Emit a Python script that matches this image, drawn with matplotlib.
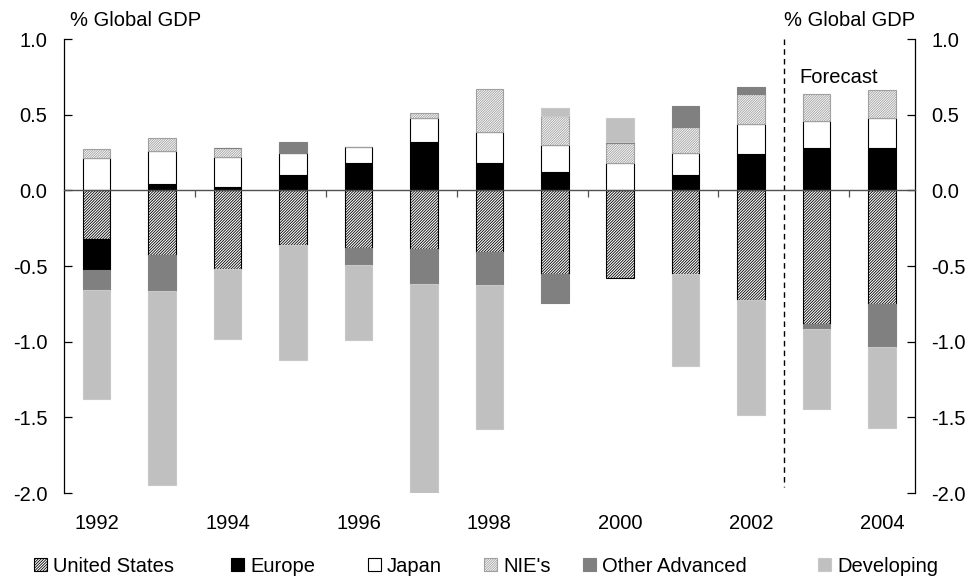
import numpy as np
import matplotlib
matplotlib.use('Agg')
import matplotlib.pyplot as plt

plt.rcParams['font.family'] = ['Liberation Sans', 'DejaVu Sans']
plt.rcParams['axes.unicode_minus'] = False
plt.rcParams['hatch.linewidth'] = 0.6

years = [1992, 1993, 1994, 1995, 1996, 1997, 1998, 1999, 2000, 2001, 2002, 2003, 2004]

# contributions, % of global GDP
us = [-0.323, -0.427, -0.522, -0.361, -0.383, -0.385, -0.405, -0.555, -0.582, -0.555, -0.727, -0.880, -0.750]
europe = [-0.200, 0.041, 0.019, 0.100, 0.178, 0.321, 0.178, 0.118, 0.0, 0.103, 0.237, 0.281, 0.281]
japan = [0.217, 0.221, 0.203, 0.144, 0.106, 0.157, 0.209, 0.181, 0.178, 0.145, 0.203, 0.175, 0.199]
nies = [0.056, 0.081, 0.057, 0.0, 0.0, 0.033, 0.283, 0.194, 0.132, 0.168, 0.197, 0.183, 0.186]
other_adv = [-0.137, -0.239, 0.0, 0.073, -0.110, -0.232, -0.223, -0.188, 0.011, 0.144, 0.046, -0.035, -0.288]
developing = [-0.717, -1.284, -0.461, -0.759, -0.495, -1.385, -0.947, 0.049, 0.157, -0.607, -0.758, -0.532, -0.533]

series = [
    ('United States', us, dict(color='white', edgecolor='black', hatch='/' * 12)),
    ('Europe', europe, dict(color='black', edgecolor='black')),
    ('Japan', japan, dict(color='white', edgecolor='black')),
    ("NIE's", nies, dict(color='white', edgecolor='#a0a0a0', hatch='/' * 14)),
    ('Other Advanced', other_adv, dict(color='#808080', edgecolor='#808080')),
    ('Developing', developing, dict(color='#c0c0c0', edgecolor='#c8c8c8')),
]

fig = plt.figure(figsize=(9.7, 5.79), dpi=100)
ax = fig.add_axes([0.066, 0.1485, 0.877, 0.7841])

x = np.arange(len(years))
pos_base = np.zeros(len(years))
neg_base = np.zeros(len(years))
handles = []
for name, vals, style in series:
    v = np.array(vals)
    bottom = np.where(v >= 0, pos_base, neg_base)
    b = ax.bar(x, v, width=0.42, bottom=bottom, linewidth=0.8, label=name, **style)
    handles.append(b)
    pos_base += np.clip(v, 0, None)
    neg_base += np.clip(v, None, 0)

ax.set_xlim(-0.5, len(years) - 0.5)
ax.set_ylim(-2.0, 1.0)
ax.set_yticks(np.arange(-2.0, 1.01, 0.5))
ax.set_yticklabels(['%.1f' % t for t in np.arange(-2.0, 1.01, 0.5)])
ax.tick_params(axis='y', direction='in', length=6, width=0.9, labelsize=14.5,
               pad=12, left=True, right=True, labelleft=True, labelright=True)

# zero line doubles as the category axis
ax.spines['top'].set_visible(False)
ax.spines['bottom'].set_position(('data', 0))
ax.spines['bottom'].set_color('#505050')
ax.spines['bottom'].set_linewidth(1.0)
ax.spines['bottom'].set_zorder(5)
for s in ['left', 'right']:
    ax.spines[s].set_linewidth(0.9)
ax.set_xticks(np.arange(1.5, len(years) - 1, 2))
ax.set_xticklabels([])
ax.tick_params(axis='x', direction='out', length=5, width=0.9, color='#505050')

sec = ax.secondary_xaxis('bottom')
sec.set_xticks(x[::2])
sec.set_xticklabels([str(y) for y in years[::2]])
sec.tick_params(length=0, labelsize=14.5, pad=15)
sec.spines['bottom'].set_visible(False)

# forecast divider
ax.plot([10.5, 10.5], [1.0, -1.96], color='black', linestyle=(0, (4, 3)), linewidth=1.0)
ax.text(10.74, 0.745, 'Forecast', fontsize=14.5, va='center', ha='left')

fig.text(70 / 970, 1 - 20 / 579, '% Global GDP', fontsize=14.5, ha='left', va='center')
fig.text(915 / 970, 1 - 20 / 579, '% Global GDP', fontsize=14.5, ha='right', va='center')

# legend entries laid out one by one along the bottom
legend_x = [34, 231, 368, 484, 583, 818]
for h, lx in zip(handles, legend_x):
    fig.legend([h], [h.get_label()], loc='center left', bbox_to_anchor=(lx / 970, 1 - 566 / 579),
               frameon=False, fontsize=14.5, handlelength=0.65, handleheight=0.65,
               handletextpad=0.3, borderpad=0, borderaxespad=0)

fig.savefig('out.png', dpi=100)
